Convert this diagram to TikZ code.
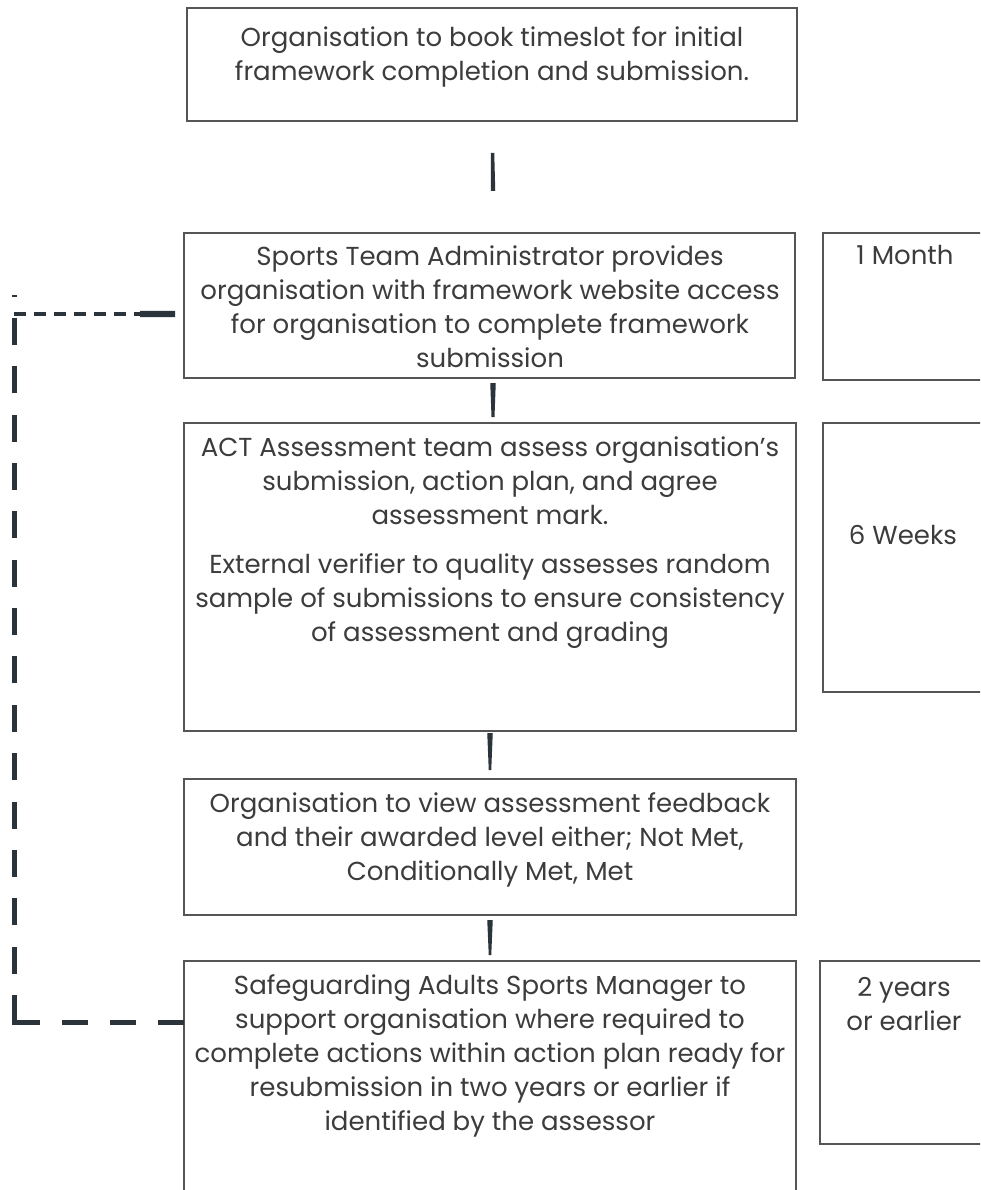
\documentclass[tikz,border=0pt]{standalone}
\usepackage{fontspec}
\setmainfont{Poppins}
\usetikzlibrary{calc}
\definecolor{boxline}{HTML}{555555}
\definecolor{txtcol}{HTML}{3C3C3C}
\definecolor{conncol}{HTML}{2B333B}
\tikzset{
  box/.style={draw=boxline, line width=1.5pt, rectangle, inner sep=0pt, outer sep=0pt, anchor=north west},
  txtnode/.style={inner sep=0pt, outer sep=0pt, anchor=north, align=center, text=txtcol, font=\fontsize{26}{34}\selectfont},
  dashthick/.style={draw=conncol, line width=5pt},
  dashthin/.style={draw=conncol, line width=3.5pt, dash pattern=on 12pt off 8pt},
}
\newcommand\taperline[4]{%
  \fill[conncol] ($#1+(-#3/2,0)$) -- ($#1+(#3/2,0)$) -- ($#2+(#4/2,0)$) -- ($#2+(-#4/2,0)$) -- cycle;}
\begin{document}
\begin{tikzpicture}[x=1pt,y=-1pt]
\useasboundingbox (0,0) rectangle (980,1190);
\clip (0,0) rectangle (980,1190);
\fill[white] (0,0) rectangle (980,1190);

% main boxes
\node[box, minimum width=610pt, minimum height=113pt] (b1) at (187,8) {};
\node[box, minimum width=611pt, minimum height=145pt] (b2) at (184,233) {};
\node[box, minimum width=612pt, minimum height=308pt] (b3) at (184,423) {};
\node[box, minimum width=612pt, minimum height=136pt] (b4) at (184,779) {};
\node[box, minimum width=612pt, minimum height=260pt] (b5) at (184,961) {};
% side boxes
\node[box, minimum width=170pt, minimum height=147pt] (r1) at (823,233) {};
\node[box, minimum width=170pt, minimum height=269pt] (r2) at (823,423) {};
\node[box, minimum width=170pt, minimum height=183pt] (r3) at (820,961) {};

% texts
\node[txtnode] (t1) at (492,23.2) {\strut Organisation to book timeslot for initial\\framework completion and submission.};
\node[txtnode] (t2) at (490,241.2) {\strut Sports Team Administrator provides\\organisation with framework website access\\for organisation to complete framework\\submission};
\node[txtnode] (t3) at (490,432.2) {\strut ACT Assessment team assess organisation’s\\submission, action plan, and agree\\assessment mark.\\[15pt]External verifier to quality assesses random\\sample of submissions to ensure consistency\\of assessment and grading};
\node[txtnode] (t4) at (490,788.2) {\strut Organisation to view assessment feedback\\and their awarded level either; Not Met,\\Conditionally Met, Met};
\node[txtnode] (t5) at (490,970.2) {\strut Safeguarding Adults Sports Manager to\\support organisation where required to\\complete actions within action plan ready for\\resubmission in two years or earlier if\\identified by the assessor};
\node[txtnode] (rt1) at (905,241.2) {\strut 1 Month};
\node[txtnode] (rt2) at (903,520.2) {\strut 6 Weeks};
\node[txtnode] (rt3) at (904,972.2) {\strut 2 years\\or earlier};

% connectors
\coordinate (c1a) at ($(b1.south)+(0.5,32)$);
\coordinate (c1b) at ($(b2.north)+(3.5,-42)$);
\coordinate (c2a) at ($(b2.south)+(3.5,5)$);
\coordinate (c2b) at ($(b3.north)+(3,-6)$);
\coordinate (c3a) at ($(b3.south)+(0,2)$);
\coordinate (c3b) at ($(b4.north)+(0,-9)$);
\coordinate (c4a) at ($(b4.south)+(0,5)$);
\coordinate (c4b) at ($(b5.north)+(0,-6)$);
\taperline{(c1a)}{(c1b)}{3.5}{4.5}
\taperline{(c2a)}{(c2b)}{5.5}{3}
\taperline{(c3a)}{(c3b)}{5.5}{2.5}
\taperline{(c4a)}{(c4b)}{5.5}{2.5}

% dashed feedback loop
\coordinate (dl) at ($(b5.north west)+(0,61)$);
\coordinate (k1) at (14,1022);
\coordinate (k2) at (14,318);
\coordinate (k3) at (14,314);
\coordinate (dm) at (140,314);
\coordinate (dr) at ($(b2.north west)+(-9,81)$);
\draw[dashthick, dash pattern=on 26pt off 22pt] (dl) -- (k1);
\draw[dashthick, dash pattern=on 27pt off 21.36pt] (k1) -- (k2);
\fill[conncol] ($(k1)+(-2.5,-2.5)$) rectangle ($(k1)+(2.5,2.5)$);
\draw[dashthin] (k3) -- (dm);
\fill[conncol] ($(dm)+(0,-3.2)$) -- ($(dr)+(0,-3)$) -- ($(dr)+(0,3)$) -- ($(dm)+(0,3.2)$) -- cycle;
\draw[conncol, line width=1.5pt] (12,296) -- (17,296);
\end{tikzpicture}
\end{document}
